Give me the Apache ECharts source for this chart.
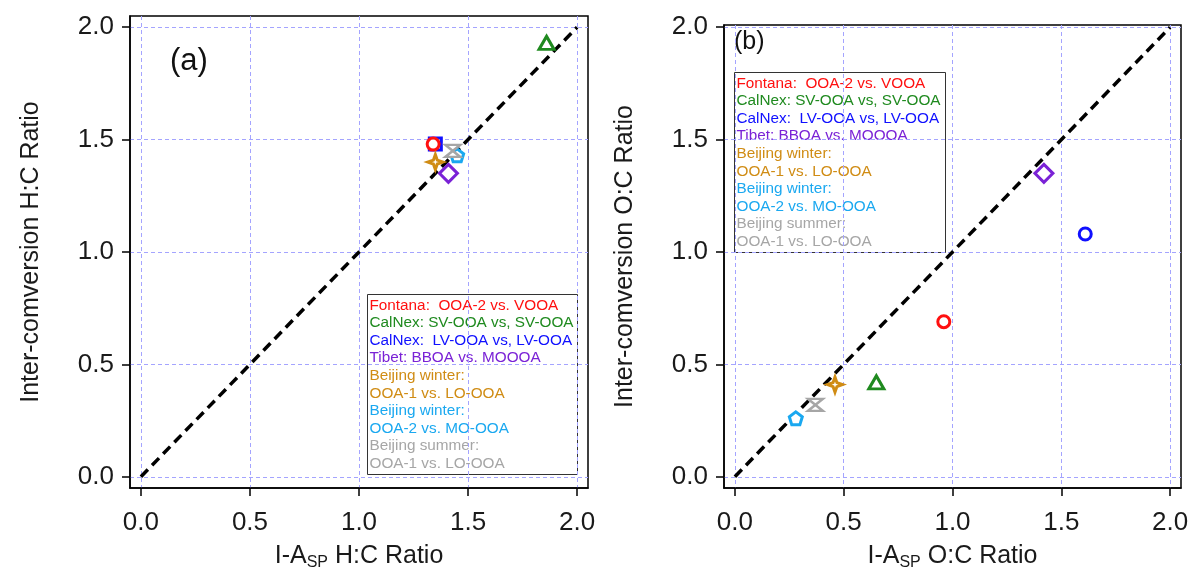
<!DOCTYPE html>
<html>
<head>
<meta charset="utf-8">
<script src="https://cdn.jsdelivr.net/npm/echarts@6/dist/echarts.min.js"></script>
<style>
  html, body {margin: 0; padding: 0; background: #fff;}
  #chart {width: 1198px; height: 583px;}
</style>
</head>
<body>
<div id="chart"></div>
<script>
// 数据: 各研究的 I-A_SP 比值与 inter-conversion 比值
var groups = ['Fontana', 'CalNex SV-OOA', 'CalNex LV-OOA', 'Tibet',
    'Beijing winter OOA-1', 'Beijing winter OOA-2', 'Beijing summer OOA-1'];
var hcIasp  = [1.34, 1.86, 1.35, 1.41, 1.35, 1.45, 1.43];
var hcInter = [1.48, 1.93, 1.48, 1.35, 1.40, 1.43, 1.45];
var ocIasp  = [0.96, 0.65, 1.61, 1.42, 0.46, 0.28, 0.37];
var ocInter = [0.69, 0.42, 1.08, 1.35, 0.41, 0.26, 0.32];
var oneToOne = [[0, 0], [2, 2]];
var tickValues = [0, 0.5, 1, 1.5, 2];

var legendLines = [
    'Fontana:  OOA-2 vs. VOOA',
    'CalNex: SV-OOA vs, SV-OOA',
    'CalNex:  LV-OOA vs, LV-OOA',
    'Tibet: BBOA vs. MOOOA',
    'Beijing winter:',
    'OOA-1 vs. LO-OOA',
    'Beijing winter:',
    'OOA-2 vs. MO-OOA',
    'Beijing summer:',
    'OOA-1 vs. LO-OOA'
];
var legendKeys = ['red', 'green', 'blue', 'purple', 'orange', 'orange', 'sky', 'sky', 'gray', 'gray'];

var colors = {
    red: '#ff1010', green: '#1f8a1f', blue: '#1010ff', purple: '#7a22d6',
    orange: '#d08c14', sky: '#1aa8f0', gray: '#a6a6a6'
};
var groupColor = ['red', 'green', 'blue', 'purple', 'orange', 'sky', 'gray'];

var FONT = 'Liberation Sans, Arial, sans-serif';

// 标记形状
var star4 = 'path://M0,-10 L2.6,-2.6 L10,0 L2.6,2.6 L0,10 L-2.6,2.6 L-10,0 L-2.6,-2.6 Z';
var pentagon = 'path://M0,-10 L9.5,-3.1 L5.9,8.1 L-5.9,8.1 L-9.5,-3.1 Z';
var hourglass = 'path://M-10,-8 L10,-8 L-10,8 L10,8 Z';
var markA = [
    {symbol: 'circle', size: 12},
    {symbol: 'triangle', size: [15, 13]},
    {symbol: 'rect', size: 12},
    {symbol: 'diamond', size: 18},
    {symbol: star4, size: 15},
    {symbol: pentagon, size: 13},
    {symbol: hourglass, size: [15, 12]}
];
var markB = markA.slice();
markB[2] = {symbol: 'circle', size: 12};

// 画顺序: 后画的在上面
var drawOrder = [2, 0, 1, 3, 4, 5, 6];

function makeAxes(gi, yMax) {
    var common = {
        type: 'value', gridIndex: gi, min: -0.05,
        axisLine: {show: true, onZero: false, lineStyle: {color: '#000', width: 1.5}},
        axisTick: {show: true, inside: false, length: 8, customValues: tickValues,
                   lineStyle: {color: '#000', width: 1.5}},
        axisLabel: {customValues: tickValues, color: '#1a1a1a', fontSize: 26, fontFamily: FONT,
                    formatter: function(v) { return v.toFixed(1); }},
        splitLine: {show: true, lineStyle: {color: '#a4a4ff', width: 1, type: [4, 3]}},
        nameLocation: 'middle',
        nameTextStyle: {fontSize: 25, fontFamily: FONT, color: '#1a1a1a'}
    };
    var x = Object.assign({}, common, {max: 2.05});
    x.axisLabel = Object.assign({}, common.axisLabel, {margin: 22});
    var y = Object.assign({}, common, {max: yMax});
    y.axisLabel = Object.assign({}, common.axisLabel, {margin: 16});
    return {x: x, y: y};
}

var axA = makeAxes(0, 2.05);
var axB = makeAxes(1, 2.01);
var subRich = {
    n: {fontSize: 25, fontFamily: FONT, color: '#1a1a1a'},
    s: {fontSize: 16, fontFamily: FONT, color: '#1a1a1a', padding: [14, 0, 0, 0]}
};
axA.x.name = '{n|I-A}{s|SP}{n| H:C Ratio}';
axA.x.nameGap = 53;
axA.x.nameTextStyle = {rich: subRich};
axB.x.name = '{n|I-A}{s|SP}{n| O:C Ratio}';
axB.x.nameGap = 53;
axB.x.nameTextStyle = {rich: subRich};
axA.y.name = 'Inter-comversion H:C Ratio';
axA.y.nameGap = 86;
axB.y.name = 'Inter-comversion O:C Ratio';
axB.y.nameGap = 86;

var series = [];
function addPanel(gi, xs, ys, marks) {
    series.push({
        type: 'line', xAxisIndex: gi, yAxisIndex: gi, data: oneToOne,
        symbol: 'none', silent: true, z: 1,
        lineStyle: {color: '#000', width: 3.5, type: [10, 6]}
    });
    drawOrder.forEach(function(i, k) {
        series.push({
            name: groups[i], type: 'scatter', xAxisIndex: gi, yAxisIndex: gi,
            data: [[xs[i], ys[i]]],
            symbol: marks[i].symbol, symbolSize: marks[i].size, z: 3 + k,
            itemStyle: {color: '#fff', borderColor: colors[groupColor[i]],
                        borderWidth: i == 6 ? 2.5 : 3, opacity: 1}
        });
    });
}
addPanel(0, hcIasp, hcInter, markA);
addPanel(1, ocIasp, ocInter, markB);

function legendBox(x, y, w, h) {
    var rich = {};
    Object.keys(colors).forEach(function(k) {
        rich[k] = {fill: colors[k], fontSize: 15.3, fontFamily: FONT, lineHeight: 17.6};
    });
    var text = legendLines.map(function(s, i) {
        return '{' + legendKeys[i] + '|' + s + '}';
    }).join('\n');
    return {
        type: 'group', left: x, top: y,
        children: [
            {type: 'rect', shape: {x: 0, y: 0, width: w, height: h},
             style: {fill: '#fff', stroke: '#333', lineWidth: 1}},
            {type: 'text', x: 2, y: 2,
             style: {text: text, rich: rich, fontSize: 15.3, fontFamily: FONT}}
        ]
    };
}

var myChart = echarts.init(document.getElementById('chart'));
myChart.setOption({
    animation: false,
    grid: [
        {left: 130, top: 16, width: 458, height: 472, show: true,
         borderColor: '#000', borderWidth: 1.5, containLabel: false},
        {left: 724, top: 25, width: 457, height: 463, show: true,
         borderColor: '#000', borderWidth: 1.5, containLabel: false}
    ],
    xAxis: [axA.x, axB.x],
    yAxis: [axA.y, axB.y],
    series: series,
    graphic: [
        legendBox(367, 294, 210, 180),
        legendBox(734, 72, 211, 180),
        {type: 'text', left: 170, top: 46,
         style: {text: '(a)', fontSize: 31, fontFamily: FONT, fill: '#111'}},
        {type: 'text', left: 734, top: 30,
         style: {text: '(b)', fontSize: 25, fontFamily: FONT, fill: '#111'}}
    ]
});
window.onresize = myChart.resize;
</script>
</body>
</html>
